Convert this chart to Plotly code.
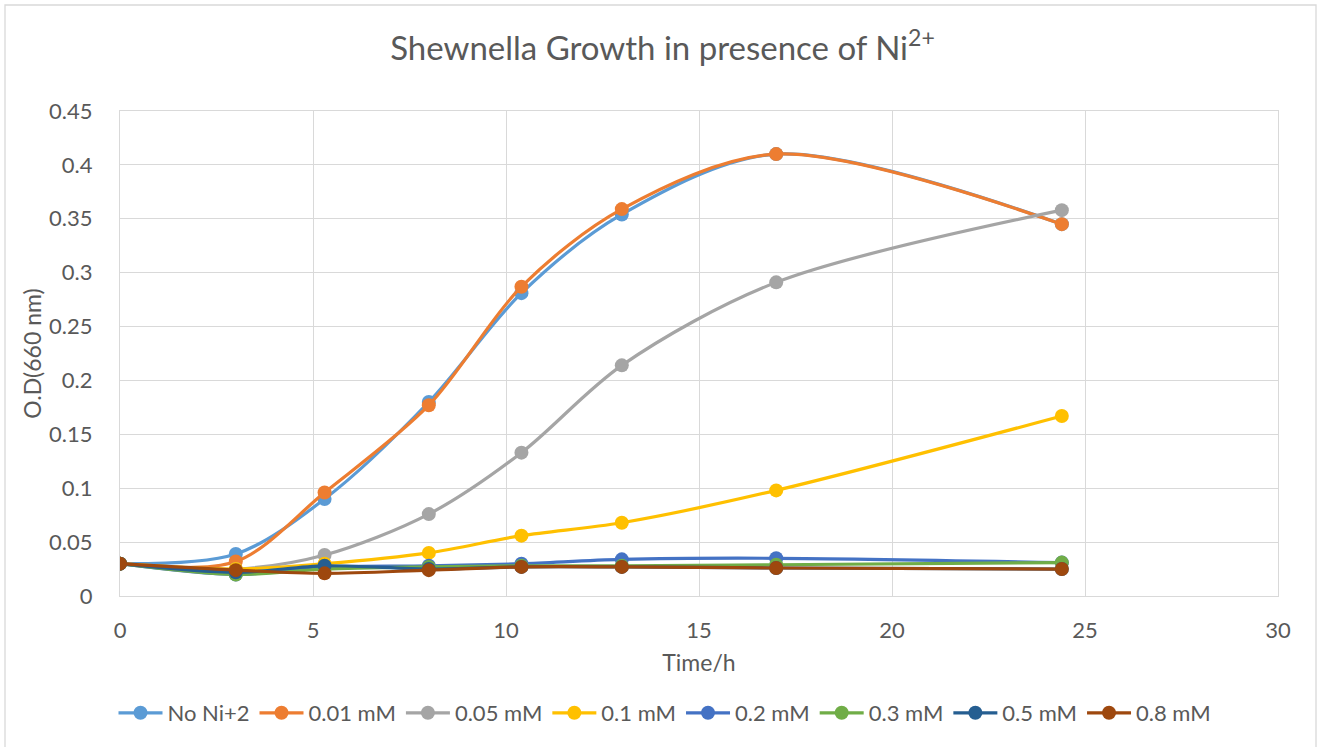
import plotly.graph_objects as go

# Sampling times (hours)
time_h = [0, 3, 5.3, 8, 10.4, 13, 17, 24.4]

# Optical density at 660 nm for each Ni2+ concentration
od_no_ni = [0.030, 0.039, 0.090, 0.180, 0.281, 0.354, 0.410, 0.345]
od_001 = [0.030, 0.032, 0.096, 0.177, 0.287, 0.359, 0.410, 0.345]
od_005 = [0.030, 0.025, 0.038, 0.076, 0.133, 0.214, 0.291, 0.358]
od_01 = [0.030, 0.025, 0.030, 0.040, 0.056, 0.068, 0.098, 0.167]
od_02 = [0.030, 0.020, 0.027, 0.028, 0.030, 0.034, 0.035, 0.031]
od_03 = [0.030, 0.020, 0.025, 0.027, 0.028, 0.028, 0.029, 0.031]
od_05 = [0.030, 0.022, 0.028, 0.025, 0.027, 0.027, 0.026, 0.025]
od_08 = [0.030, 0.024, 0.021, 0.024, 0.027, 0.027, 0.026, 0.025]

series_names = ["No Ni+2", "0.01 mM", "0.05 mM", "0.1 mM",
                "0.2 mM", "0.3 mM", "0.5 mM", "0.8 mM"]
series_values = [od_no_ni, od_001, od_005, od_01, od_02, od_03, od_05, od_08]
series_colors = ["#5B9BD5", "#ED7D31", "#A5A5A5", "#FFC000",
                 "#4472C4", "#70AD47", "#255E91", "#9E480E"]

FONT = "Lato, Carlito, 'Open Sans', sans-serif"
TEXT = "#595959"
GRID = "#D9D9D9"

fig = go.Figure()
for name, vals, col in zip(series_names, series_values, series_colors):
    fig.add_trace(go.Scatter(
        x=time_h, y=vals, name=name, mode="lines+markers",
        line=dict(color=col, width=3.2, shape="spline", smoothing=0.9),
        marker=dict(color=col, size=14),
    ))

# Plot-area geometry in pixels, used for the outer chart border
L, R, T, B = 120, 47, 111, 151
W, H = 1325, 747
pw, ph = W - L - R, H - T - B

def px_x(px):
    return (px - L) / pw

def px_y(py):
    return (H - B - py) / ph

fig.add_shape(type="rect", xref="paper", yref="paper",
              x0=px_x(5), x1=px_x(1316), y0=px_y(752), y1=px_y(5),
              line=dict(color=GRID, width=1.3), fillcolor="rgba(0,0,0,0)",
              layer="below")

fig.update_layout(
    width=W, height=H,
    margin=dict(l=L, r=R, t=T, b=B, autoexpand=False),
    paper_bgcolor="white", plot_bgcolor="white",
    font=dict(family=FONT, color=TEXT, size=22),
    title=dict(text="Shewnella Growth in presence of Ni<sup>2+</sup>",
               x=0.5, xref="container", xanchor="center",
               y=1 - 48 / H, yref="container", yanchor="middle",
               font=dict(size=33, color=TEXT, family=FONT)),
    xaxis=dict(range=[0, 30], dtick=5, tick0=0,
               showgrid=True, gridcolor=GRID, gridwidth=1.3,
               showline=True, linecolor=GRID, linewidth=1.3, mirror=True,
               zeroline=False, ticks="", ticklabelstandoff=14,
               tickfont=dict(size=22, color=TEXT),
               title=dict(text="Time/h", font=dict(size=23, color=TEXT),
                          standoff=13)),
    yaxis=dict(range=[0, 0.45], dtick=0.05, tick0=0,
               showgrid=True, gridcolor=GRID, gridwidth=1.3,
               showline=True, linecolor=GRID, linewidth=1.3, mirror=True,
               zeroline=False, ticks="", ticklabelstandoff=22,
               tickfont=dict(size=22, color=TEXT),
               title=dict(text="O.D(660 nm)", font=dict(size=23, color=TEXT),
                          standoff=0)),
    legend=dict(orientation="h", x=px_x(665), xanchor="center",
                y=px_y(713), yanchor="middle",
                font=dict(size=22, color=TEXT), itemwidth=44,
                tracegroupgap=0, bgcolor="rgba(0,0,0,0)"),
    showlegend=True,
)

fig.write_html("out.html")
